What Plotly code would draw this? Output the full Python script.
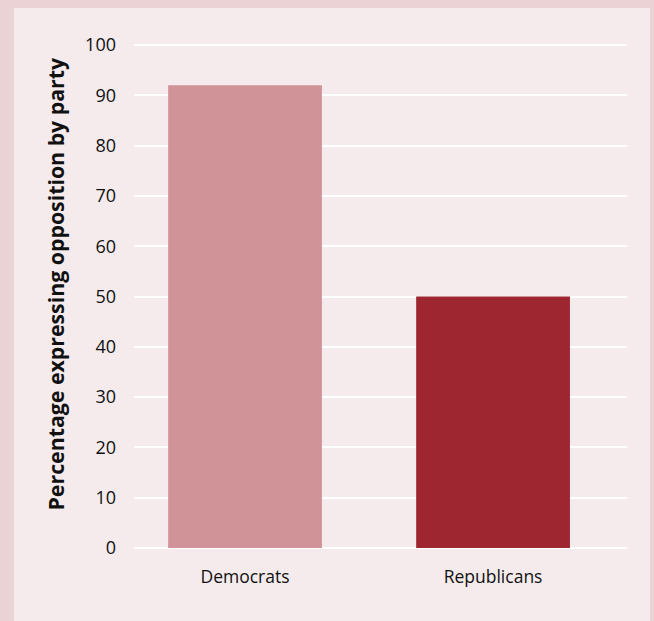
import plotly.graph_objects as go

categories = ["Democrats", "Republicans"]
values = [92, 50]
bar_colors = ["#d09398", "#9e2631"]
y_ticks = [0, 10, 20, 30, 40, 50, 60, 70, 80, 90, 100]
y_title = "Percentage expressing opposition by party"

W, H = 654, 621
ml, mr, mt, mb = 134, 27, 40, 68
FONT = "Open Sans"

fig = go.Figure()
fig.add_trace(go.Bar(
    x=categories, y=values, marker=dict(color=bar_colors, line=dict(width=0)),
    width=0.62, hoverinfo="x+y",
))

plot_w = W - ml - mr
plot_h = H - mt - mb

def px_to_paper_x(px):
    return (px - ml) / plot_w

def px_to_paper_y(py):
    return (H - mb - py) / plot_h

# inner light panel
fig.add_shape(type="rect", xref="paper", yref="paper",
              x0=px_to_paper_x(14), x1=px_to_paper_x(650),
              y0=px_to_paper_y(640), y1=px_to_paper_y(8),
              fillcolor="#f5ebec", line=dict(width=0), layer="below")

fig.add_annotation(text="<b>" + y_title + "</b>", textangle=-90,
                   xref="paper", yref="paper", x=px_to_paper_x(55),
                   y=px_to_paper_y(283.5),
                   xanchor="center", yanchor="middle", showarrow=False,
                   font=dict(family=FONT, size=21.3, color="#111111"))

fig.update_layout(
    width=W, height=H,
    margin=dict(l=ml, r=mr, t=mt, b=mb, pad=0),
    paper_bgcolor="#ebd3d5",
    plot_bgcolor="rgba(0,0,0,0)",
    showlegend=False,
    font=dict(family=FONT, color="#111111"),
    xaxis=dict(range=[-0.4476, 1.54], showgrid=False, zeroline=False,
               showline=False, ticks="", tickfont=dict(size=17.5),
               ticklabelstandoff=11),
    yaxis=dict(range=[-1, 101], tickvals=y_ticks, showgrid=True,
               gridcolor="#ffffff", gridwidth=2, zeroline=False,
               showline=False, ticks="", tickfont=dict(size=18),
               ticklabelstandoff=17),
)

fig.write_html("out.html")
